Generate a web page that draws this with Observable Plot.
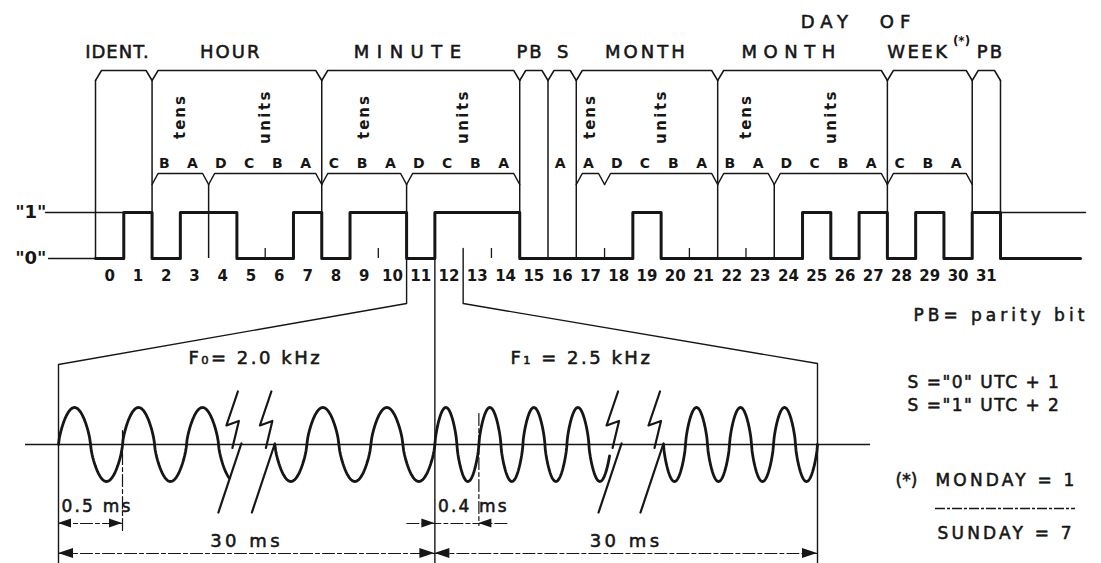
<!DOCTYPE html>
<html><head><meta charset="utf-8">
<script src="https://cdn.jsdelivr.net/npm/d3@7"></script>
<script src="https://cdn.jsdelivr.net/npm/@observablehq/plot@0.6"></script>
<style>
html,body{margin:0;padding:0;background:#fff;}
#chart svg{display:block;}
</style></head>
<body><div id="chart"></div>
<script>
// ================= DATA =================
const bitNumbers = [0,1,2,3,4,5,6,7,8,9,10,11,12,13,14,15,16,17,18,19,20,21,22,23,24,25,26,27,28,29,30,31];
const bitValues  = [0,1,0,1,1,0,0,1,0,1,1,0,1,1,1,0,0,0,0,1,0,0,0,0,0,1,0,1,0,1,0,1];
const bitLetters = ["","","B","A","D","C","B","A","C","B","A","D","C","B","A","","A","A","D","C","B","A","B","A","D","C","B","A","C","B","A",""];
const groupNames  = ["IDENT.","HOUR","MINUTE","PB","S","MONTH","MONTH","WEEK","PB"];
const groupStarts = [0,2,8,15,16,17,22,28,31];
const groupEnds   = [2,8,15,16,17,22,28,31,32];
const dayOfTitle  = "DAY OF";
const weekMark    = "(*)";
const subNames  = ["tens","units","tens","units","tens","units","tens","units",""];
const subStarts = [2,4,8,11,17,18,22,24,28];
const subEnds   = [4,8,11,15,18,22,24,28,31];
const subDividers = [4,11,24];
const boundaryTicks = [6,10,14,18,21,23];
const levelNames  = ['"1"','"0"'];
const levelValues = [1,0];
const zoomBits = [11,12];
const carrierLabels = ["F₀= 2.0 kHz","F₁ = 2.5 kHz"];
const periodLabels  = ["0.5 ms","0.4 ms"];
const bitDurationLabels = ["30 ms","30 ms"];
const cyclesBeforeBreak = [2.67, 3.97];
const cyclesAfterBreak  = [2.5, 3.5];
const legendLines = ["PB= parity bit", 'S ="0" UTC + 1', 'S ="1" UTC + 2'];
const weekLegendMark = "(*)";
const weekLegend = ["MONDAY = 1", "SUNDAY = 7"];

// ================= LAYOUT (pixels) =================
const W = 1101, H = 563;
const X0 = 95, X32 = 1000, BW = (X32 - X0) / 32;   // bit 0 edge, bit 32 edge
const LOW = 258, LV = 46;                            // "0" row, "0"->"1" height
const ROW = {dayOf:22, head:52, brace:70, notch:80, sub:116, letters:163, subBrace:173, subNotch:184,
             tickTop:248, nums:276, trapTop:303, fLabel:358, axis:444, amp:37,
             dimText:506, dim:523, bigText:541, bigDim:553, bottom:563};
const headNudge = [-6.3,-6.2,-9.5,-3.8,0.5,-0.6,-10.9,-11.5,4.1];
const zoomEdgePx = [58, 817];
const trapSlantPx = [364, 363];
const cyclePx = [64, 44];
const carrierLabelPx = [188, 510];
const chamferPx = 6;
const ink = "#161616";

const xs = d3.scaleLinear().domain([-X0 / BW, (W - X0) / BW]).range([0, W]);
const ys = d3.scaleLinear().domain([(LOW - H) / LV, LOW / LV]).range([H, 0]);
const X = px => xs.invert(px), Y = px => ys.invert(px);
const C = chamferPx / BW;

const marks = [];
const thin = {x: "x", y: "y", stroke: ink, strokeWidth: 1.3};

// reference level lines
const firstHigh = bitValues.indexOf(1), lastHigh = bitValues.lastIndexOf(1);
marks.push(Plot.line([{x: X(45), y: 1}, {x: firstHigh, y: 1}], thin));
marks.push(Plot.line([{x: X(48), y: 0}, {x: 0, y: 0}], thin));
marks.push(Plot.line([{x: lastHigh, y: 1}, {x: X(1085), y: 1}], thin));

// braces
const braces = [];
function brace(s, e, top, notch, id) {
  return [{x: s, y: Y(notch), id}, {x: s + C, y: Y(top), id}, {x: e - C, y: Y(top), id}, {x: e, y: Y(notch), id}];
}
groupStarts.forEach((s, i) => braces.push(...brace(s, groupEnds[i], ROW.brace, ROW.notch, "g" + i)));
subStarts.forEach((s, i) => braces.push(...brace(s, subEnds[i], ROW.subBrace, ROW.subNotch, "s" + i)));
marks.push(Plot.line(braces, {x: "x", y: "y", z: "id", stroke: ink, strokeWidth: 1.5}));

// group separators
const bounds = Array.from(new Set([...groupStarts, ...groupEnds]));
marks.push(Plot.ruleX(bounds, {x: d => d, y1: 0, y2: Y(ROW.notch), stroke: ink, strokeWidth: 1.5}));
marks.push(Plot.ruleX(subDividers, {x: d => d, y1: 0, y2: Y(ROW.subNotch), stroke: ink, strokeWidth: 1.5}));
marks.push(Plot.ruleX(boundaryTicks, {x: d => d, y1: 0, y2: Y(ROW.tickTop), stroke: ink, strokeWidth: 1.3}));

// zoom trapezoid
const midBit = zoomBits[1], leftBit = zoomBits[0], rightBit = zoomBits[1] + 1;
const trap = [
  {x: leftBit, y: 0, id: "L"}, {x: leftBit, y: Y(ROW.trapTop), id: "L"},
  {x: X(zoomEdgePx[0]), y: Y(trapSlantPx[0]), id: "L"}, {x: X(zoomEdgePx[0]), y: Y(ROW.bottom), id: "L"},
  {x: rightBit, y: Y(ROW.tickTop), id: "R"}, {x: rightBit, y: Y(ROW.trapTop), id: "R"},
  {x: X(zoomEdgePx[1]), y: Y(trapSlantPx[1]), id: "R"}, {x: X(zoomEdgePx[1]), y: Y(ROW.bottom), id: "R"}
];
marks.push(Plot.line(trap, {x: "x", y: "y", z: "id", stroke: ink, strokeWidth: 1.4}));
marks.push(Plot.ruleX([midBit], {x: d => d, y1: Y(ROW.bottom), y2: 0, stroke: ink, strokeWidth: 1.4}));

// signal
const signal = bitNumbers.map(i => ({x: i, y: bitValues[i]}));
signal.push({x: 32, y: 0}, {x: X(1080), y: 0});
marks.push(Plot.line(signal, {x: "x", y: "y", curve: "step-after", stroke: ink, strokeWidth: 3}));

// wave axis
marks.push(Plot.ruleY([Y(ROW.axis)], {y: d => d, x1: X(25), x2: X(870), stroke: ink, strokeWidth: 1.4}));

// carrier waves
const wins = zoomBits.map((b, k) => ({a: k === 0 ? zoomEdgePx[0] : xs(midBit), b: k === 0 ? xs(midBit) : zoomEdgePx[1], P: cyclePx[k]}));
const shape = s => Math.sign(s) * Math.pow(Math.abs(s), 0.7);
const wave = [];
wins.forEach((w, k) => {
  const nb = Math.round(cyclesBeforeBreak[k] * 80);
  for (let j = 0; j <= nb; j++) {
    const t = cyclesBeforeBreak[k] * j / nb;
    wave.push({x: X(w.a + t * w.P), y: Y(ROW.axis - ROW.amp * shape(Math.sin(2 * Math.PI * t))), id: "a" + k});
  }
  const na = Math.round(cyclesAfterBreak[k] * 80);
  for (let j = 0; j <= na; j++) {
    const t = -cyclesAfterBreak[k] + cyclesAfterBreak[k] * j / na;
    wave.push({x: X(w.b + t * w.P), y: Y(ROW.axis - ROW.amp * shape(Math.sin(2 * Math.PI * t))), id: "b" + k});
  }
});
marks.push(Plot.line(wave, {x: "x", y: "y", z: "id", stroke: ink, strokeWidth: 2.8}));

// break bolts
const zig = [[-3.5,-53],[-15,-19],[-2.5,-23.5],[-9,3.5]];
const slash = [[0,-1],[-23,68]];
const bolts = [];
wins.forEach((w, k) => {
  const anchors = [w.a + cyclesBeforeBreak[k] * w.P + 12, w.b - cyclesAfterBreak[k] * w.P];
  anchors.forEach((ax, m) => {
    zig.forEach(([dx, dy]) => bolts.push({x: X(ax + dx), y: Y(ROW.axis + dy), id: `z${k}${m}`}));
    slash.forEach(([dx, dy]) => bolts.push({x: X(ax + dx), y: Y(ROW.axis + dy), id: `s${k}${m}`}));
  });
});
marks.push(Plot.line(bolts, {x: "x", y: "y", z: "id", stroke: ink, strokeWidth: 2.2}));

// dimension lines
const heads = [];
function head(tip, row, dir, L, h, id) {
  heads.push({x: X(tip), y1: Y(row), y2: Y(row), id});
  heads.push({x: X(tip - dir * L), y1: Y(row - h), y2: Y(row + h), id});
}
const dimLines = [];
const w0 = wins[0], w1 = wins[1];
// 0.5 ms (inside arrows)
dimLines.push({x: X(w0.a), y: Y(ROW.dim), id: "d0"}, {x: X(w0.a + w0.P), y: Y(ROW.dim), id: "d0"});
head(w0.a, ROW.dim, -1, 13, 4.5, "h0"); head(w0.a + w0.P, ROW.dim, 1, 13, 4.5, "h1");
dimLines.push({x: X(w0.a + w0.P), y: Y(430), id: "e0"}, {x: X(w0.a + w0.P), y: Y(532), id: "e0"});
// 0.4 ms (outside arrows)
dimLines.push({x: X(w1.a - 28), y: Y(ROW.dim), id: "d1"}, {x: X(w1.a + w1.P + 31), y: Y(ROW.dim), id: "d1"});
head(w1.a, ROW.dim, 1, 13, 4.5, "h2"); head(w1.a + w1.P, ROW.dim, -1, 13, 4.5, "h3");
dimLines.push({x: X(w1.a + w1.P), y: Y(413), id: "e1"}, {x: X(w1.a + w1.P), y: Y(525), id: "e1"});
// 30 ms
wins.forEach((w, k) => {
  dimLines.push({x: X(w.a), y: Y(ROW.bigDim), id: "D" + k}, {x: X(w.b), y: Y(ROW.bigDim), id: "D" + k});
  head(w.a, ROW.bigDim, -1, 15, 5, "H" + k + "a"); head(w.b, ROW.bigDim, 1, 15, 5, "H" + k + "b");
});
marks.push(Plot.line(dimLines, {x: "x", y: "y", z: "id", stroke: ink, strokeWidth: 1.2, strokeDasharray: "12,3,4,3"}));
marks.push(Plot.areaY(heads, {x: "x", y1: "y1", y2: "y2", z: "id", fill: ink}));

// ---------- texts ----------
const txt = (rows, o) => Plot.text(rows, {x: "x", y: "y", text: "t", fill: ink, ...o});
const heavy = {stroke: ink, strokeWidth: 0.55};
marks.push(txt(groupNames.map((t, i) => ({t, x: (groupStarts[i] + groupEnds[i]) / 2 + headNudge[i] / BW, y: Y(ROW.head)})), {fontSize: 18, ...heavy}));
marks.push(txt([{t: dayOfTitle, x: X(858), y: Y(ROW.dayOf)}], {fontSize: 18, ...heavy}));
marks.push(txt([{t: weekMark, x: X(961), y: Y(41)}], {fontSize: 12, fontWeight: "bold"}));
marks.push(txt(subNames.map((t, i) => ({t, x: (subStarts[i] + subEnds[i]) / 2, y: Y(ROW.sub)})).filter(d => d.t), {fontSize: 15, fontWeight: "bold", rotate: -90}));
marks.push(txt(bitLetters.map((t, i) => ({t, x: i + 0.5 - 2 / BW, y: Y(ROW.letters)})).filter(d => d.t), {fontSize: 14, fontWeight: "bold"}));
marks.push(txt(bitNumbers.map(i => ({t: String(i), x: i + 0.5, y: Y(ROW.nums)})), {fontSize: 15, fontWeight: "bold"}));
marks.push(txt(levelNames.map((t, i) => ({t, x: X(46), y: levelValues[i]})), {fontSize: 18, fontWeight: "bold", textAnchor: "end"}));
marks.push(txt(carrierLabels.map((t, i) => ({t, x: X(carrierLabelPx[i]), y: Y(ROW.fLabel)})), {fontSize: 18, textAnchor: "start", ...heavy}));
marks.push(txt(periodLabels.map((t, i) => ({t, x: X(wins[i].a + 3), y: Y(ROW.dimText)})), {fontSize: 17, textAnchor: "start", ...heavy}));
marks.push(txt(bitDurationLabels.map((t, i) => ({t, x: X((wins[i].a + wins[i].b) / 2), y: Y(ROW.bigText)})), {fontSize: 18, ...heavy}));
marks.push(txt([
  {t: legendLines[0], x: X(913), y: Y(315)},
  {t: legendLines[1], x: X(907), y: Y(382)},
  {t: legendLines[2], x: X(907), y: Y(405)},
  {t: weekLegendMark, x: X(895), y: Y(480)},
  {t: weekLegend[0], x: X(935), y: Y(480)},
  {t: weekLegend[1], x: X(937), y: Y(533)}
], {fontSize: 17, textAnchor: "start", ...heavy}));
marks.push(Plot.ruleY([Y(508)], {y: d => d, x1: X(935), x2: X(1075), stroke: ink, strokeWidth: 1.3, strokeDasharray: "10,2,3,2"}));

const chart = Plot.plot({
  width: W, height: H, margin: 0,
  x: {domain: xs.domain(), axis: null},
  y: {domain: ys.domain(), axis: null},
  style: {fontFamily: "'DejaVu Sans', sans-serif", background: "#fff", color: ink, overflow: "visible"},
  marks
});

// letter spacing (style)
const spacing = {"IDENT.":[1],"HOUR":[2],"MINUTE":[7.5],"PB":[2],"MONTH":[3,6.5],"WEEK":[2.5],"DAY OF":[6],
  "tens":[2],"units":[2.5],"PB= parity bit":[4],"MONDAY = 1":[3.2],"SUNDAY = 7":[3.2],"30 ms":[3.5],
  "0.5 ms":[2.2],"0.4 ms":[2.2],"F₀= 2.0 kHz":[2.5],"F₁ = 2.5 kHz":[2.5]};
spacing[legendLines[1]] = [1.5]; spacing[legendLines[2]] = [1.5];
const seen = {};
d3.select(chart).selectAll("text").each(function() {
  const t = this.textContent; const arr = spacing[t];
  if (!arr) return;
  const n = seen[t] = (seen[t] || 0);
  seen[t]++;
  d3.select(this).attr("letter-spacing", arr[Math.min(n, arr.length - 1)]);
  if (t === "DAY OF") d3.select(this).attr("word-spacing", 14);
});
document.getElementById("chart").appendChild(chart);
</script></body></html>
